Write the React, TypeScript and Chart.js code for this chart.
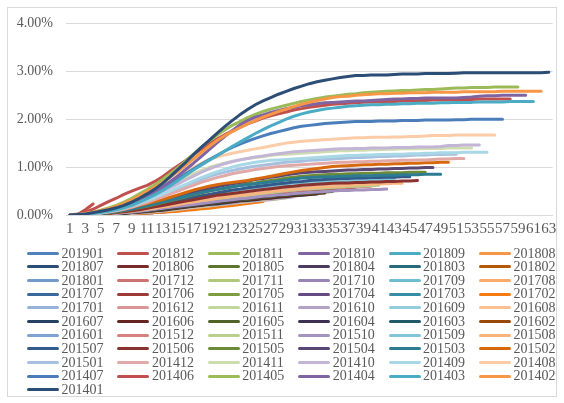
import React, { useEffect, useRef } from "react";
import { Chart, registerables } from "chart.js";

Chart.register(...registerables);

const FONT = "'Liberation Serif', 'Times New Roman', serif";

const categories = [
  "1","2","3","4","5","6","7","8","9","10","11","12","13","14","15","16","17","18","19","20",
  "21","22","23","24","25","26","27","28","29","30","31","32","33","34","35","36","37","38","39","40",
  "41","42","43","44","45","46","47","48","49","50","51","52","53","54","55","56","57","58","59","60",
  "61","62","63",
];

const yTicks = ["0.00%", "1.00%", "2.00%", "3.00%", "4.00%"];

// cumulative rate (%) by month on book, one array per vintage
const s201401 = [0,0.01,0.02,0.05,0.08,0.11,0.15,0.2,0.27,0.35, 0.44,0.54,0.66,0.8,0.95,1.1,1.26,1.41,1.55,1.7, 1.84,1.97,2.09,2.2,2.3,2.38,2.45,2.52,2.58,2.64, 2.69,2.74,2.78,2.81,2.84,2.87,2.89,2.91,2.91,2.92, 2.92,2.92,2.93,2.94,2.94,2.94,2.95,2.95,2.95,2.95, 2.96,2.97,2.97,2.97,2.97,2.97,2.97,2.97,2.97,2.97, 2.97,2.97,2.98];
const s201402 = [0,0.01,0.03,0.06,0.09,0.13,0.18,0.24,0.31,0.4, 0.49,0.58,0.68,0.79,0.91,1.04,1.17,1.3,1.43,1.55, 1.65,1.74,1.82,1.9,1.97,2.04,2.1,2.16,2.21,2.26, 2.31,2.35,2.39,2.42,2.45,2.47,2.48,2.5,2.51,2.52, 2.53,2.53,2.54,2.54,2.55,2.55,2.55,2.56,2.56,2.56, 2.56,2.57,2.57,2.57,2.57,2.57,2.58,2.58,2.58,2.58, 2.58,2.58];
const s201403 = [0,0,0.01,0.03,0.05,0.08,0.11,0.15,0.2,0.27, 0.34,0.42,0.51,0.61,0.72,0.83,0.94,1.04,1.14,1.23, 1.33,1.43,1.52,1.61,1.7,1.78,1.86,1.93,2,2.06, 2.11,2.15,2.18,2.21,2.23,2.25,2.27,2.28,2.29,2.3, 2.3,2.31,2.31,2.32,2.32,2.33,2.33,2.33,2.34,2.34, 2.35,2.35,2.35,2.36,2.36,2.36,2.36,2.37,2.37,2.37, 2.37];
const s201404 = [0,0.01,0.02,0.04,0.07,0.1,0.14,0.19,0.25,0.32, 0.4,0.49,0.59,0.7,0.82,0.95,1.08,1.22,1.36,1.5, 1.63,1.76,1.88,1.97,2.04,2.09,2.14,2.18,2.22,2.25, 2.28,2.3,2.32,2.34,2.35,2.36,2.37,2.38,2.38,2.39, 2.4,2.41,2.42,2.42,2.43,2.43,2.44,2.44,2.44,2.44, 2.44,2.45,2.46,2.48,2.49,2.49,2.5,2.5,2.5,2.5];
const s201405 = [0,0.01,0.03,0.06,0.1,0.15,0.2,0.27,0.35,0.44, 0.53,0.63,0.74,0.86,0.99,1.13,1.27,1.41,1.54,1.66, 1.77,1.87,1.95,2.03,2.1,2.16,2.21,2.25,2.29,2.33, 2.37,2.4,2.43,2.46,2.48,2.5,2.52,2.53,2.55,2.56, 2.57,2.58,2.59,2.6,2.6,2.61,2.62,2.62,2.63,2.64, 2.65,2.65,2.66,2.66,2.66,2.67,2.67,2.67,2.67];
const s201406 = [0,0.02,0.06,0.12,0.2,0.28,0.35,0.43,0.5,0.56, 0.62,0.7,0.8,0.92,1.03,1.14,1.26,1.37,1.48,1.58, 1.67,1.75,1.83,1.9,1.96,2.02,2.07,2.11,2.15,2.19, 2.22,2.25,2.27,2.29,2.31,2.32,2.33,2.34,2.35,2.36, 2.36,2.37,2.37,2.38,2.38,2.39,2.39,2.4,2.4,2.4, 2.41,2.41,2.41,2.42,2.42,2.42,2.42,2.42];
const s201407 = [0,0,0.02,0.04,0.07,0.11,0.15,0.2,0.26,0.33, 0.4,0.48,0.57,0.66,0.76,0.86,0.96,1.06,1.15,1.24, 1.33,1.41,1.48,1.54,1.6,1.65,1.7,1.74,1.78,1.82, 1.85,1.87,1.89,1.91,1.92,1.93,1.94,1.95,1.95,1.95, 1.96,1.96,1.96,1.97,1.97,1.97,1.98,1.98,1.98,1.98, 1.99,1.99,2,2,2,2,2];
const s201408 = [0,0,0.01,0.03,0.05,0.08,0.12,0.17,0.23,0.3, 0.38,0.47,0.57,0.67,0.78,0.89,0.99,1.08,1.16,1.21, 1.25,1.29,1.32,1.35,1.38,1.41,1.44,1.47,1.5,1.52, 1.54,1.55,1.56,1.57,1.58,1.59,1.6,1.61,1.61,1.62, 1.62,1.62,1.63,1.63,1.64,1.64,1.65,1.66,1.66,1.66, 1.67,1.67,1.67,1.67,1.67,1.67];
const s201409 = [0,0,0.01,0.02,0.04,0.07,0.1,0.14,0.19,0.24, 0.3,0.36,0.43,0.5,0.57,0.64,0.71,0.78,0.84,0.9, 0.95,1,1.04,1.07,1.1,1.12,1.14,1.15,1.16,1.17, 1.18,1.19,1.2,1.21,1.22,1.23,1.24,1.24,1.25,1.25, 1.26,1.26,1.27,1.27,1.28,1.28,1.29,1.29,1.3,1.3, 1.3,1.31,1.31,1.31,1.31];
const s201410 = [0,0,0.01,0.03,0.05,0.08,0.12,0.16,0.21,0.27, 0.34,0.41,0.49,0.57,0.65,0.73,0.81,0.89,0.96,1.02, 1.07,1.11,1.15,1.18,1.21,1.23,1.26,1.28,1.3,1.32, 1.33,1.34,1.35,1.36,1.37,1.38,1.38,1.39,1.39,1.4, 1.4,1.4,1.41,1.41,1.41,1.42,1.42,1.42,1.43,1.45, 1.45,1.46,1.46,1.46];
const s201411 = [0,0,0.01,0.03,0.06,0.09,0.13,0.18,0.24,0.31, 0.38,0.46,0.54,0.62,0.7,0.78,0.86,0.93,0.99,1.04, 1.08,1.12,1.15,1.18,1.2,1.22,1.24,1.26,1.27,1.28, 1.29,1.3,1.31,1.32,1.33,1.34,1.34,1.35,1.35,1.36, 1.36,1.37,1.37,1.38,1.38,1.38,1.39,1.39,1.39,1.4, 1.4,1.4,1.4];
const s201412 = [0,0,0.01,0.02,0.04,0.06,0.09,0.12,0.16,0.21, 0.26,0.32,0.38,0.44,0.5,0.56,0.62,0.68,0.73,0.78, 0.82,0.86,0.89,0.92,0.95,0.97,0.99,1.01,1.03,1.04, 1.05,1.06,1.07,1.08,1.09,1.1,1.1,1.11,1.11,1.12, 1.12,1.13,1.13,1.14,1.14,1.15,1.15,1.16,1.17,1.17, 1.18,1.18];
const s201501 = [0,0,0.01,0.03,0.05,0.07,0.1,0.14,0.18,0.23, 0.29,0.35,0.41,0.48,0.55,0.62,0.68,0.74,0.8,0.85, 0.89,0.93,0.96,0.99,1.02,1.04,1.06,1.08,1.1,1.11, 1.12,1.14,1.15,1.16,1.17,1.18,1.19,1.2,1.2,1.21, 1.22,1.22,1.23,1.23,1.24,1.25,1.25,1.26,1.26,1.27, 1.27];
const s201502 = [0,0,0.01,0.02,0.04,0.06,0.09,0.12,0.16,0.2, 0.24,0.28,0.32,0.37,0.42,0.47,0.52,0.56,0.6,0.63, 0.66,0.68,0.7,0.72,0.75,0.78,0.81,0.84,0.87,0.9, 0.93,0.95,0.97,0.99,1.01,1.02,1.03,1.04,1.05,1.05, 1.06,1.06,1.07,1.07,1.08,1.08,1.09,1.09,1.1,1.1];
const s201503 = [0,0,0.01,0.02,0.03,0.05,0.07,0.1,0.13,0.16, 0.19,0.23,0.27,0.31,0.35,0.39,0.43,0.47,0.5,0.53, 0.56,0.59,0.61,0.63,0.65,0.67,0.69,0.71,0.73,0.75, 0.77,0.78,0.79,0.8,0.8,0.81,0.81,0.82,0.82,0.82, 0.83,0.83,0.83,0.84,0.84,0.84,0.85,0.85,0.85];
const s201504 = [0,0,0.01,0.02,0.03,0.05,0.07,0.1,0.13,0.17, 0.21,0.25,0.29,0.34,0.38,0.43,0.47,0.51,0.55,0.59, 0.62,0.65,0.68,0.71,0.74,0.76,0.79,0.81,0.84,0.86, 0.88,0.89,0.9,0.91,0.92,0.93,0.94,0.94,0.95,0.95, 0.96,0.96,0.97,0.97,0.98,0.98,0.99,0.99];
const s201505 = [0,0,0.01,0.01,0.03,0.04,0.06,0.09,0.12,0.15, 0.18,0.22,0.26,0.3,0.34,0.38,0.42,0.46,0.5,0.53, 0.56,0.59,0.62,0.65,0.67,0.7,0.72,0.74,0.77,0.79, 0.81,0.82,0.83,0.84,0.85,0.85,0.86,0.86,0.87,0.87, 0.87,0.88,0.88,0.88,0.89,0.89,0.89];
const s201506 = [0,0,0,0.01,0.02,0.03,0.05,0.07,0.09,0.11, 0.14,0.17,0.2,0.23,0.26,0.29,0.32,0.35,0.38,0.41, 0.43,0.45,0.47,0.49,0.51,0.53,0.55,0.57,0.59,0.6, 0.62,0.63,0.64,0.65,0.66,0.67,0.67,0.68,0.68,0.69, 0.69,0.7,0.7,0.71,0.71,0.72];
const s201507 = [0,0,0.01,0.01,0.02,0.04,0.06,0.08,0.1,0.13, 0.16,0.19,0.23,0.26,0.3,0.33,0.37,0.4,0.43,0.46, 0.49,0.52,0.54,0.57,0.59,0.61,0.63,0.65,0.67,0.69, 0.7,0.72,0.73,0.74,0.75,0.76,0.76,0.77,0.77,0.78, 0.78,0.79,0.79,0.8,0.8];
const s201508 = [0,0,0,0.01,0.02,0.03,0.04,0.06,0.08,0.1, 0.12,0.14,0.17,0.19,0.22,0.25,0.27,0.3,0.32,0.35, 0.37,0.39,0.41,0.43,0.45,0.47,0.49,0.51,0.52,0.54, 0.55,0.57,0.58,0.59,0.6,0.61,0.62,0.63,0.64,0.64, 0.65,0.65,0.66,0.66];
const s201509 = [0,0,0.01,0.02,0.03,0.04,0.06,0.08,0.11,0.14, 0.17,0.2,0.23,0.26,0.29,0.32,0.35,0.38,0.41,0.44, 0.47,0.5,0.52,0.54,0.56,0.58,0.6,0.62,0.63,0.65, 0.66,0.67,0.68,0.69,0.7,0.71,0.71,0.72,0.72,0.73, 0.73,0.74,0.74];
const s201510 = [0,0,0,0.01,0.01,0.02,0.03,0.05,0.06,0.08, 0.1,0.12,0.14,0.16,0.18,0.2,0.22,0.24,0.26,0.28, 0.3,0.32,0.34,0.35,0.37,0.39,0.4,0.42,0.43,0.45, 0.46,0.47,0.48,0.49,0.5,0.51,0.51,0.52,0.52,0.53, 0.53,0.54];
const s201511 = [0,0,0,0.01,0.02,0.03,0.04,0.05,0.07,0.09, 0.11,0.13,0.15,0.18,0.2,0.23,0.25,0.28,0.3,0.32, 0.35,0.37,0.39,0.41,0.43,0.45,0.47,0.49,0.51,0.52, 0.54,0.55,0.56,0.57,0.58,0.59,0.6,0.6,0.61,0.61, 0.62];
const s201512 = [0,0,0,0.01,0.02,0.03,0.04,0.06,0.08,0.1, 0.12,0.14,0.16,0.18,0.21,0.23,0.25,0.27,0.3,0.32, 0.34,0.36,0.38,0.4,0.42,0.44,0.46,0.48,0.49,0.51, 0.52,0.53,0.55,0.56,0.57,0.57,0.58,0.59,0.59,0.6];
const s201601 = [0,0,0.01,0.01,0.02,0.03,0.05,0.07,0.09,0.11, 0.13,0.15,0.18,0.2,0.23,0.25,0.28,0.3,0.33,0.35, 0.37,0.39,0.41,0.43,0.45,0.47,0.49,0.51,0.53,0.54, 0.56,0.57,0.58,0.59,0.6,0.61,0.62,0.62,0.63];
const s201602 = [0,0,0,0.01,0.02,0.03,0.04,0.05,0.07,0.09, 0.11,0.13,0.15,0.17,0.19,0.21,0.23,0.25,0.27,0.29, 0.31,0.33,0.35,0.37,0.39,0.41,0.43,0.45,0.46,0.48, 0.49,0.51,0.52,0.53,0.55,0.56,0.57,0.58];
const s201603 = [0,0,0,0.01,0.01,0.02,0.03,0.05,0.06,0.08, 0.1,0.12,0.14,0.16,0.18,0.2,0.22,0.24,0.26,0.28, 0.3,0.32,0.34,0.36,0.38,0.4,0.41,0.43,0.45,0.46, 0.48,0.49,0.5,0.52,0.53,0.54,0.55];
const s201604 = [0,0,0,0.01,0.01,0.02,0.03,0.04,0.06,0.07, 0.09,0.11,0.13,0.15,0.17,0.19,0.21,0.23,0.25,0.27, 0.29,0.31,0.33,0.35,0.36,0.38,0.4,0.41,0.43,0.44, 0.46,0.47,0.48,0.5,0.51,0.52];
const s201605 = [0,0,0,0.01,0.01,0.02,0.03,0.04,0.05,0.07, 0.08,0.1,0.12,0.14,0.16,0.18,0.2,0.22,0.24,0.26, 0.28,0.3,0.32,0.33,0.35,0.37,0.38,0.4,0.41,0.43, 0.44,0.45,0.47,0.48,0.49];
const s201606 = [0,0,0,0,0.01,0.02,0.03,0.04,0.05,0.06, 0.08,0.09,0.11,0.13,0.15,0.17,0.19,0.21,0.23,0.25, 0.27,0.28,0.3,0.32,0.33,0.35,0.36,0.38,0.39,0.41, 0.42,0.43,0.45,0.46];
const s201607 = [0,0,0,0.01,0.01,0.02,0.02,0.03,0.05,0.06, 0.07,0.09,0.1,0.12,0.14,0.16,0.18,0.2,0.22,0.23, 0.25,0.27,0.29,0.3,0.32,0.34,0.35,0.37,0.38,0.4, 0.41,0.43,0.44];
const s201608 = [0,0,0,0,0.01,0.01,0.02,0.03,0.04,0.05, 0.07,0.08,0.1,0.11,0.13,0.15,0.17,0.19,0.21,0.23, 0.25,0.27,0.28,0.3,0.32,0.33,0.35,0.36,0.38,0.39, 0.41,0.42];
const s201609 = [0,0,0,0.01,0.01,0.02,0.03,0.04,0.05,0.06, 0.08,0.09,0.11,0.13,0.15,0.17,0.19,0.21,0.23,0.25, 0.27,0.28,0.3,0.31,0.33,0.34,0.36,0.37,0.38,0.4, 0.41];
const s201610 = [0,0,0,0,0.01,0.01,0.02,0.03,0.04,0.05, 0.06,0.08,0.09,0.11,0.13,0.15,0.17,0.19,0.2,0.22, 0.24,0.25,0.27,0.29,0.3,0.32,0.33,0.35,0.36,0.38];
const s201611 = [0,0,0,0,0.01,0.01,0.02,0.03,0.04,0.05, 0.06,0.07,0.09,0.1,0.12,0.14,0.16,0.17,0.19,0.21, 0.23,0.25,0.26,0.28,0.3,0.31,0.33,0.34,0.36];
const s201612 = [0,0,0,0,0.01,0.01,0.02,0.02,0.03,0.04, 0.05,0.07,0.08,0.1,0.11,0.13,0.15,0.17,0.19,0.21, 0.22,0.24,0.26,0.27,0.29,0.31,0.32,0.34];
const s201701 = [0,0,0,0.01,0.01,0.02,0.02,0.03,0.04,0.05, 0.07,0.08,0.1,0.11,0.13,0.15,0.17,0.18,0.2,0.22, 0.24,0.25,0.27,0.29,0.3,0.32,0.33];
const s201702 = [0,0,0,0,0,0.01,0.01,0.02,0.02,0.03, 0.04,0.05,0.06,0.07,0.08,0.1,0.11,0.13,0.14,0.16, 0.18,0.2,0.22,0.24,0.26,0.28];
const s201703 = [0,0,0,0.01,0.01,0.02,0.02,0.03,0.04,0.05, 0.06,0.08,0.09,0.11,0.12,0.14,0.16,0.17,0.19,0.21, 0.23,0.24,0.26,0.28,0.3];
const s201704 = [0,0,0,0,0.01,0.01,0.02,0.03,0.04,0.05, 0.06,0.07,0.09,0.1,0.12,0.13,0.15,0.17,0.18,0.2, 0.22,0.23,0.25,0.27];
const s201705 = [0,0,0,0,0.01,0.01,0.02,0.03,0.04,0.05, 0.06,0.07,0.08,0.1,0.11,0.13,0.14,0.16,0.18,0.2, 0.22,0.24,0.26];
const s201706 = [0,0,0,0,0.01,0.01,0.02,0.02,0.03,0.04, 0.05,0.06,0.08,0.09,0.11,0.12,0.14,0.15,0.17,0.19, 0.22,0.24];
const s201707 = [0,0,0,0,0.01,0.01,0.02,0.02,0.03,0.04, 0.05,0.06,0.07,0.08,0.1,0.11,0.13,0.14,0.16,0.18, 0.2];
const s201708 = [0,0,0,0,0,0.01,0.01,0.02,0.03,0.03, 0.04,0.05,0.06,0.08,0.09,0.11,0.12,0.14,0.16,0.18];
const s201709 = [0,0,0,0,0.01,0.01,0.02,0.02,0.03,0.04, 0.05,0.06,0.07,0.08,0.1,0.11,0.13,0.15,0.17];
const s201710 = [0,0,0,0,0,0.01,0.01,0.02,0.02,0.03, 0.04,0.05,0.06,0.08,0.09,0.11,0.13,0.15];
const s201711 = [0,0,0,0,0.01,0.01,0.02,0.02,0.03,0.04, 0.05,0.06,0.07,0.09,0.1,0.12,0.14];
const s201712 = [0,0,0,0,0,0.01,0.01,0.02,0.02,0.03, 0.04,0.05,0.06,0.08,0.1,0.12];
const s201801 = [0,0,0,0,0.01,0.01,0.02,0.02,0.03,0.04, 0.05,0.06,0.07,0.09,0.11];
const s201802 = [0,0,0,0,0,0.01,0.01,0.02,0.02,0.03, 0.04,0.05,0.07,0.09];
const s201803 = [0,0,0,0,0.01,0.01,0.01,0.02,0.03,0.03, 0.04,0.06,0.07];
const s201804 = [0,0,0,0,0,0.01,0.01,0.02,0.02,0.03, 0.04,0.05];
const s201805 = [0,0,0,0,0.01,0.01,0.01,0.02,0.03,0.03, 0.04];
const s201806 = [0,0,0,0,0,0.01,0.01,0.02,0.02,0.03];
const s201807 = [0,0,0,0,0.01,0.01,0.01,0.02,0.02];
const s201808 = [0,0,0,0,0,0.01,0.01,0.02];
const s201809 = [0,0,0,0,0.01,0.01,0.01];
const s201810 = [0,0,0,0,0,0.01];
const s201811 = [0,0,0,0.01,0.01];
const s201812 = [0,0.01,0.11,0.23];
const s201901 = [0,0,0];

// series names, in the order the legend lists them
const seriesNames = [
  "201901","201812","201811","201810","201809","201808",
  "201807","201806","201805","201804","201803","201802",
  "201801","201712","201711","201710","201709","201708",
  "201707","201706","201705","201704","201703","201702",
  "201701","201612","201611","201610","201609","201608",
  "201607","201606","201605","201604","201603","201602",
  "201601","201512","201511","201510","201509","201508",
  "201507","201506","201505","201504","201503","201502",
  "201501","201412","201411","201410","201409","201408",
  "201407","201406","201405","201404","201403","201402",
  "201401",
];

const seriesValues = [
  s201901, s201812, s201811, s201810, s201809, s201808,
  s201807, s201806, s201805, s201804, s201803, s201802,
  s201801, s201712, s201711, s201710, s201709, s201708,
  s201707, s201706, s201705, s201704, s201703, s201702,
  s201701, s201612, s201611, s201610, s201609, s201608,
  s201607, s201606, s201605, s201604, s201603, s201602,
  s201601, s201512, s201511, s201510, s201509, s201508,
  s201507, s201506, s201505, s201504, s201503, s201502,
  s201501, s201412, s201411, s201410, s201409, s201408,
  s201407, s201406, s201405, s201404, s201403, s201402,
  s201401,
];

const seriesColors = [
  "#4F81BD","#C0504D","#9BBB59","#8064A2","#4BACC6","#F79646",
  "#2C4D75","#772C2A","#5F7530","#4D3B62","#276A7C","#B65708",
  "#729ACA","#CD7371","#AFC97A","#9983B5","#6FBDD1","#F9AB6B",
  "#3A679C","#9E3B38","#7E9D40","#654B82","#358EA5","#F57A10",
  "#95B3D7","#D99694","#C3D69B","#B3A2C7","#93CDDD","#FAC090",
  "#254061","#632523","#4F6228","#3F3151","#215968","#984807",
  "#7EA3D0","#D4817F","#B9CF8A","#A592BE","#82C4D8","#FAB47D",
  "#335A8A","#8A3230","#6E8B37","#594673","#2E7C91","#D8680C",
  "#A7C0DF","#E0A8A7","#CEDDB0","#C3B5D6","#A8D7E5","#FBCCA7",
  "#4A7EBB","#C0504D","#9BBB59","#8064A2","#4BACC6","#F79646",
  "#2C4D75",
];

export default function App() {
  const ref = useRef<HTMLCanvasElement>(null);

  useEffect(() => {
    if (!ref.current) return;
    // later series (older vintages) are drawn on top, as in the original
    const order = seriesNames.map((_, i) => seriesNames.length - 1 - i);
    const datasets = order.map((i) => ({
      label: seriesNames[i],
      data: seriesValues[i],
      borderColor: seriesColors[i],
      backgroundColor: seriesColors[i],
      borderWidth: 3,
      pointRadius: 0,
      pointHoverRadius: 0,
      borderCapStyle: "round" as const,
      borderJoinStyle: "round" as const,
      fill: false,
      tension: 0,
    }));
    const chart = new Chart(ref.current, {
      type: "line",
      data: { labels: categories, datasets },
      options: {
        responsive: false,
        animation: false,
        events: [],
        layout: { padding: { left: 0, right: 3.3, top: 15.3, bottom: 0 } },
        plugins: { legend: { display: false }, tooltip: { enabled: false } },
        scales: {
          x: {
            type: "category",
            offset: true,
            grid: { display: false, drawTicks: false },
            border: { display: true, color: "#d9d9d9", width: 1 },
            ticks: {
              autoSkip: false,
              maxRotation: 0,
              minRotation: 0,
              padding: 5,
              color: "#595959",
              font: { family: FONT, size: 15 },
              callback: (_v: any, i: number) => (i % 2 === 0 ? categories[i] : ""),
            },
            afterFit: (s: any) => {
              s.height = 33;
              s.paddingLeft = 0;
              s.paddingRight = 0;
            },
          },
          y: {
            min: 0,
            max: 4,
            grid: { color: "#d9d9d9", drawTicks: false, lineWidth: 1 },
            border: { display: false },
            ticks: {
              stepSize: 1,
              padding: 13,
              color: "#595959",
              font: { family: FONT, size: 14 },
              callback: (v: any) => yTicks[Math.round(Number(v))] ?? "",
            },
            afterFit: (s: any) => {
              s.width = 58;
              s.paddingTop = 0;
              s.paddingBottom = 0;
            },
          },
        },
      },
    });
    return () => chart.destroy();
  }, []);

  return (
    <div
      style={{
        position: "absolute",
        left: 7,
        top: 7,
        width: 550,
        height: 390,
        boxSizing: "border-box",
        border: "1px solid #d9d9d9",
        background: "#fff",
      }}
    >
      <canvas ref={ref} width={548} height={240} style={{ display: "block" }} />
      <div
        style={{
          position: "absolute",
          left: 19,
          top: 238.5,
          display: "grid",
          gridTemplateColumns: "repeat(6, 90.4px)",
          gridAutoRows: "13.67px",
          fontFamily: FONT,
          fontSize: 14,
          color: "#595959",
        }}
      >
        {seriesNames.map((name, i) => (
          <div key={name} style={{ display: "flex", alignItems: "center", whiteSpace: "nowrap", lineHeight: "13.67px" }}>
            <span
              style={{
                display: "inline-block",
                width: 32,
                height: 3,
                borderRadius: 1.5,
                background: seriesColors[i],
                marginRight: 2.5,
              }}
            />
            <span>{name}</span>
          </div>
        ))}
      </div>
    </div>
  );
}
